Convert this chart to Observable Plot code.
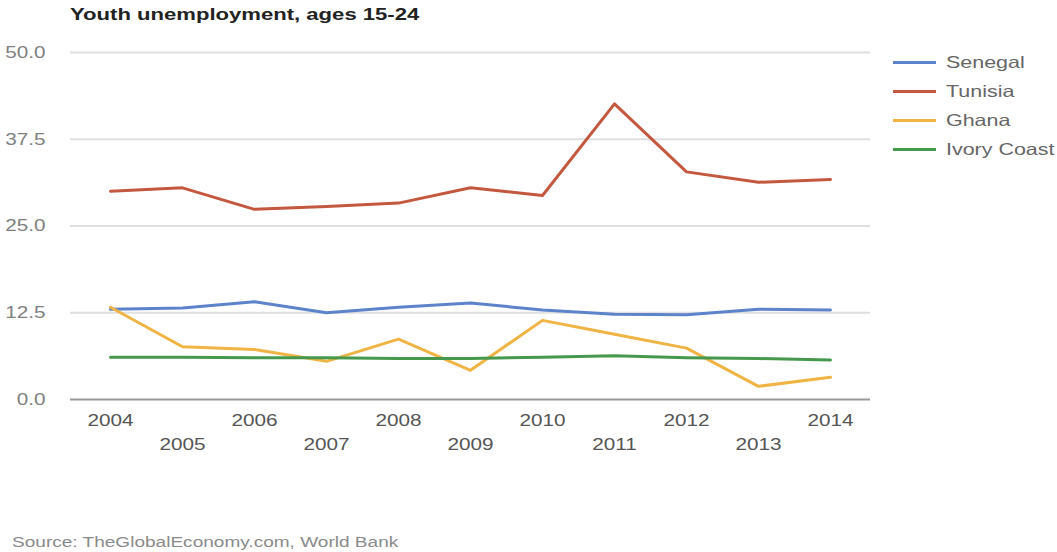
<!DOCTYPE html>
<html><head><meta charset="utf-8">
<script src="https://cdn.jsdelivr.net/npm/d3@7"></script>
<script src="https://cdn.jsdelivr.net/npm/@observablehq/plot@0.6"></script>
<style>
body{margin:0;background:#fff;font-family:"Liberation Sans",Arial,sans-serif;}
#wrap{position:relative;width:1057px;height:552px;overflow:hidden;background:#fff;}
#chart{position:absolute;left:0;top:0;}
#title{position:absolute;left:70px;top:6px;font-weight:bold;font-size:16px;color:#222;transform:scaleX(1.38);transform-origin:0 0;white-space:nowrap;}
#legend{position:absolute;left:893px;top:48px;}
.item{display:flex;align-items:center;height:29px;white-space:nowrap;}
.sw{width:43px;height:3px;margin-right:10px;flex:none;}
.lab{font-size:16.5px;color:#666;transform:scaleX(1.3);transform-origin:0 50%;}
#source{position:absolute;left:12px;top:534px;font-size:14px;color:#8a8a8a;transform:scaleX(1.36);transform-origin:0 0;white-space:nowrap;}
</style></head>
<body>
<div id="wrap">
  <div id="chart"></div>
  <div id="title">Youth unemployment, ages 15-24</div>
  <div id="legend"></div>
  <div id="source">Source: TheGlobalEconomy.com, World Bank</div>
</div>
<script>
const years = [2004, 2005, 2006, 2007, 2008, 2009, 2010, 2011, 2012, 2013, 2014];
const senegal = [13.0, 13.2, 14.1, 12.5, 13.3, 13.9, 12.9, 12.3, 12.2, 13.0, 12.9];
const tunisia = [30.0, 30.5, 27.4, 27.8, 28.3, 30.5, 29.4, 42.6, 32.8, 31.3, 31.7];
const ghana = [13.3, 7.6, 7.2, 5.5, 8.7, 4.2, 11.4, 9.4, 7.4, 1.9, 3.2];
const ivoryCoast = [6.1, 6.1, 6.0, 6.0, 5.9, 5.9, 6.1, 6.3, 6.0, 5.9, 5.7];
const seriesNames = ["Senegal", "Tunisia", "Ghana", "Ivory Coast"];
const seriesColors = ["#5d84cb", "#c4583f", "#f0b445", "#46994c"];
const yTicks = [0, 12.5, 25, 37.5, 50];

const seriesValues = [senegal, tunisia, ghana, ivoryCoast];
const rows = [];
seriesNames.forEach((name, s) => years.forEach((yr, i) => rows.push({year: yr, value: seriesValues[s][i], name})));

const S = 1.22;
const chart = Plot.plot({
  width: 1057, height: 552,
  marginLeft: 70, marginRight: 187, marginTop: 52, marginBottom: 153,
  style: {fontFamily: "'Liberation Sans', Arial, sans-serif", fontSize: "17px", background: "transparent"},
  x: {type: "point", domain: years, padding: 0.5},
  y: {domain: [0, 50]},
  color: {domain: seriesNames, range: seriesColors},
  marks: [
    Plot.ruleY(yTicks.filter(d => d > 0), {stroke: "#e0e0e0", strokeWidth: 2}),
    Plot.axisY({ticks: yTicks, tickFormat: d3.format(".1f"), tickSize: 0, tickPadding: 25, fill: "#808080", label: null}),
    Plot.axisX({ticks: years.filter(d => d % 2 === 0), tickFormat: d => String(d), tickSize: 0, tickPadding: 14, fill: "#555", label: null}),
    Plot.axisX({ticks: years.filter(d => d % 2 === 1), tickFormat: d => String(d), tickSize: 0, tickPadding: 38, fill: "#555", label: null}),
    Plot.line(rows, {x: "year", y: "value", z: "name", stroke: "name", strokeWidth: 3}),
    Plot.ruleY([0], {stroke: "#999", strokeWidth: 2})
  ]
});
chart.querySelectorAll('g[aria-label$="tick label"] text').forEach(t => {
  const x = parseFloat(t.getAttribute("x")) || 0;
  const tr = t.getAttribute("transform") || "";
  t.setAttribute("transform", `${tr} translate(${x},0) scale(${S},1) translate(${-x},0)`);
});
document.getElementById("chart").appendChild(chart);

const legend = document.getElementById("legend");
seriesNames.forEach((name, i) => {
  const item = document.createElement("div");
  item.className = "item";
  const sw = document.createElement("div");
  sw.className = "sw"; sw.style.background = seriesColors[i];
  const lab = document.createElement("span");
  lab.className = "lab"; lab.textContent = name;
  item.appendChild(sw); item.appendChild(lab);
  legend.appendChild(item);
});
</script>
</body></html>
